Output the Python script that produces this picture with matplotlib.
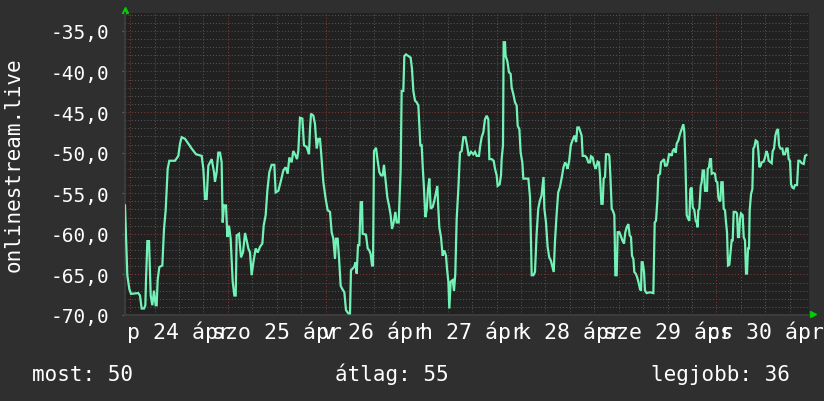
import matplotlib
matplotlib.use("Agg")
import matplotlib.pyplot as plt
import matplotlib.transforms as mtransforms

# time in hours from the left edge of the graph
hours = [0.0, 0.25, 0.57, 1.06, 1.47, 3.27, 3.68, 4.09, 4.67, 5.0, 5.16, 5.49, 5.9, 6.31, 6.71, 7.12,
         7.53, 7.78, 8.02, 8.43, 9.17, 9.58, 9.99, 10.48, 10.89, 12.28, 13.1, 13.51, 13.92, 14.74, 15.56,
         16.38, 17.44, 18.83, 19.24, 19.65, 20.06, 20.47, 21.29, 21.86, 22.1, 22.51, 22.92, 23.33, 23.74,
         23.99, 24.32, 24.81, 25.14, 25.54, 25.95, 26.45, 26.86, 27.19,
         27.43, 28.0, 28.49, 28.98, 29.48, 29.88, 30.29, 30.7, 31.11, 31.53, 32.1, 32.59, 33.16, 33.73,
         34.06, 34.55, 34.96, 35.45, 36.02, 36.68, 37.0, 37.66, 38.23, 38.89, 39.46, 39.95, 40.36, 40.93,
         41.34, 41.75, 42.25, 42.57, 42.98, 43.56, 43.96, 44.62, 45.19, 45.44, 45.69, 46.26, 46.67, 47.08,
         47.49, 47.89, 48.14, 48.71, 49.29, 49.78, 50.35, 50.76, 51.17, 51.58, 51.82, 52.23, 52.56, 52.97,
         53.38, 53.87, 54.28, 54.85, 55.26,
         55.5, 56.25, 56.66, 56.9, 57.23, 57.55, 57.88, 58.21, 58.37, 59.19, 59.6, 60.01, 60.34, 60.67,
         60.91, 61.16, 61.65, 62.06, 62.47, 62.88, 63.29, 63.61, 64.02, 64.43, 64.84, 65.25, 65.58, 65.99,
         66.4, 66.73, 67.22, 67.71, 67.95, 68.36, 68.61, 69.02, 69.59, 70.16, 70.49, 70.82, 71.23, 71.64,
         72.05, 72.29, 72.54, 72.87, 73.11, 73.44, 73.77, 74.09, 74.42, 74.75, 75.08, 75.57, 75.98, 76.39,
         76.71, 76.96, 77.2, 77.61, 78.02, 78.43, 78.84, 79.09, 79.42, 79.66, 79.99, 80.48, 80.81, 81.13,
         81.46, 81.87, 82.28, 82.69, 83.1, 83.6, 84.01, 84.42,
         84.98, 85.56, 85.97, 86.38, 86.95, 87.2, 87.6, 88.01, 88.42, 88.83, 89.24, 89.49, 90.06, 90.55,
         90.88, 91.29, 91.53, 92.02, 92.35, 92.51, 92.84, 93.0, 93.33, 93.49, 93.9, 94.31, 94.72, 94.97,
         95.38, 95.79, 96.2, 96.45, 96.86, 97.18, 97.59, 97.84, 98.25, 99.07, 99.48, 99.89, 100.3, 100.7,
         101.1, 101.5, 101.9, 102.3, 102.8, 103.0, 103.4, 103.8, 104.2, 104.6, 105.0, 105.3, 105.6, 106.0,
         106.4, 106.8, 107.3, 107.7, 108.1, 108.5, 108.7, 109.1, 109.5, 109.9, 110.4, 110.8, 111.1, 111.5,
         112.16, 112.41, 112.98, 113.39, 113.8, 114.21, 114.46, 114.87, 115.19, 115.6, 115.85, 116.09,
         116.42, 116.67, 117.0, 117.32, 117.57, 117.9, 118.14, 118.72, 118.96, 119.21, 119.54, 119.94,
         120.19, 120.44, 120.76, 121.01, 121.42, 121.74, 122.15, 122.56, 122.89, 123.22, 123.63, 123.96,
         124.28, 124.53, 124.86, 125.1, 125.43, 125.76, 126.09, 126.49, 126.74, 126.9, 127.15, 127.48,
         127.72, 128.13, 128.95, 129.77, 130.1, 130.42, 130.75, 131.0, 131.41, 131.65, 132.06, 132.39,
         132.64, 133.04, 133.29, 133.62, 134.03, 134.27, 134.52, 134.93, 135.26, 135.5, 135.91, 136.32,
         136.73, 137.14, 137.39, 137.63, 137.96, 138.37, 138.61, 138.86, 139.19, 139.43, 139.84, 140.17,
         140.41, 140.66, 140.82, 141.07, 141.4, 141.64, 141.89, 142.22, 142.46, 142.95, 143.12, 143.44,
         143.69, 143.93, 144.1, 144.5, 144.91, 145.16, 145.49, 145.73, 145.98, 146.22, 146.47, 146.8,
         147.04, 147.37, 147.62, 147.86, 148.11, 148.44, 148.68, 149.01, 149.26, 149.5, 149.99, 150.32,
         150.56, 150.81, 151.05, 151.3, 151.71, 151.96, 152.28, 152.53, 152.77, 153.02, 153.27, 153.43,
         153.76, 154.09, 154.33, 154.58, 154.91, 155.32, 155.56, 155.81, 156.14, 156.38, 156.87, 157.2,
         157.53, 157.86, 158.1, 158.59, 158.84, 159.08, 159.41, 159.74, 160.07, 160.39, 160.64, 160.97,
         161.46, 161.7, 162.11, 162.44, 162.77, 163.01, 163.34, 163.59, 163.92, 164.24, 164.57, 165.06,
         165.39, 165.72, 166.21, 166.7, 167.03, 167.35]

values = [-56.5, -60.2, -65.1, -66.8, -67.4, -67.3, -67.6, -69.2, -69.2, -68.8, -65.7, -60.9, -60.9, -67.6,
          -68.8, -67.0, -68.8, -68.8, -65.7, -64.1, -63.9, -59.4, -57.1, -52.0, -51.0, -51.0, -50.4, -48.9,
          -48.1, -48.3, -48.9, -49.5, -50.2, -50.4, -52.0, -55.7, -55.7, -51.6, -50.8, -52.4, -53.6, -52.4,
          -50.0, -50.0, -51.2, -58.6, -56.5, -56.5, -60.4, -59.0, -60.6, -65.9, -67.6, -67.6,
          -60.2, -60.0, -62.9, -62.3, -59.9, -60.8, -61.8, -62.3, -65.1, -63.5, -61.8, -62.3, -61.6, -61.2,
          -59.0, -57.7, -54.7, -52.4, -51.5, -51.5, -54.9, -54.7, -53.6, -52.2, -51.8, -52.6, -50.6, -51.2,
          -49.8, -50.2, -50.8, -49.8, -45.7, -45.8, -49.1, -49.3, -50.2, -47.1, -45.2, -45.45, -46.5, -49.5,
          -48.3, -48.3, -49.8, -53.6, -55.7, -57.1, -57.3, -59.8, -60.6, -63.1, -60.6, -60.6, -62.9, -66.4,
          -66.8, -67.2, -69.4, -69.8, -69.8,
          -64.5, -64.1, -63.5, -64.9, -61.4, -61.4, -56.1, -56.1, -60.0, -60.1, -61.8, -62.05, -62.5, -63.9,
          -63.9, -49.8, -49.4, -51.0, -52.4, -52.8, -52.8, -51.5, -53.5, -55.5, -56.5, -57.7, -59.4, -58.6,
          -57.3, -58.6, -58.6, -52.0, -42.4, -42.4, -38.1, -37.9, -38.1, -38.3, -39.7, -42.4, -43.6, -43.8,
          -44.2, -46.7, -49.1, -49.1, -51.6, -54.5, -57.95, -57.1, -54.5, -53.2, -56.9, -56.7, -55.9, -54.9,
          -54.1, -56.9, -59.2, -60.4, -62.7, -62.05, -62.7, -64.3, -65.9, -69.2, -65.9, -65.7, -67.0, -64.9,
          -58.2, -54.5, -50.0, -49.8, -48.1, -48.1, -49.1, -50.4,
          -49.9, -50.2, -49.9, -50.4, -50.4, -49.3, -48.1, -47.5, -45.9, -45.45, -45.9, -50.8, -50.8, -51.0,
          -52.0, -52.8, -54.1, -53.9, -52.8, -50.8, -49.1, -36.4, -36.4, -38.1, -38.7, -40.1, -40.3, -42.0,
          -42.8, -43.8, -44.2, -46.7, -47.1, -50.0, -51.2, -53.2, -53.2, -53.2, -55.5, -65.1, -65.1, -64.7,
          -60.0, -56.9, -55.9, -55.3, -53.0, -56.9, -58.6, -61.6, -62.9, -63.3, -64.1, -64.7, -61.0, -57.7,
          -54.9, -54.3, -53.0, -51.8, -51.2, -51.6, -52.0, -51.0, -49.1, -48.5, -47.9, -48.7, -46.9, -46.9,
          -47.9, -50.4, -50.4, -50.6, -51.2, -51.2, -50.45, -50.6, -51.4, -52.0, -51.6, -51.1,
          -51.2, -52.8, -56.3, -56.3, -53.2, -53.0, -50.2, -50.2, -50.4, -52.8, -56.9, -57.3,
          -57.7, -65.1, -65.1, -59.8, -59.8, -60.2, -60.8, -61.2, -59.8, -59.2, -58.8, -60.2,
          -60.4, -62.7, -63.1, -64.7, -64.9, -65.3, -65.9, -66.8, -67.0, -63.5, -63.5, -64.7,
          -67.0, -67.3, -67.2, -67.3, -58.6, -58.4, -55.9, -52.8, -52.6, -51.2, -51.0, -50.8,
          -51.6, -51.6, -51.2, -50.2, -50.2, -50.4, -49.8, -49.5, -50.0, -48.9, -48.5, -47.7,
          -47.1, -46.5, -47.5, -51.0, -57.7, -58.2, -58.4, -54.5, -54.3, -56.7, -57.1, -58.4,
          -58.6, -59.2, -57.1, -56.9, -54.1, -53.65, -52.2, -52.2, -54.7, -54.7, -52.0, -51.8,
          -50.8, -50.8, -52.6, -52.5, -52.6, -53.5, -53.65, -55.5, -55.9, -56.0, -53.65, -53.65,
          -56.9, -57.1, -58.6, -59.8, -63.9, -63.8, -62.5, -60.8, -60.8, -57.3, -57.3, -57.5,
          -60.4, -60.4, -58.2, -57.5, -57.7, -60.4, -60.8, -64.9, -64.9, -61.8, -61.8, -57.1,
          -55.1, -54.5, -49.5, -49.3, -48.5, -48.65, -49.8, -51.8, -51.6, -51.2, -51.1, -50.6,
          -49.8, -50.2, -51.0, -51.2, -51.3, -49.8, -49.5, -47.9, -47.3, -47.1, -49.1, -49.5,
          -49.5, -50.2, -50.2, -49.5, -49.5, -50.8, -51.0, -53.9, -54.3, -54.4, -54.0, -54.0,
          -51.0, -51.0, -51.3, -51.4, -50.4, -50.3]

day_labels = ["p 24 ápr", "szo 25 ápr", "v 26 ápr", "h 27 ápr", "k 28 ápr", "sze 29 ápr", "cs 30 ápr"]
first_midnight = 1.25   # hours after the left edge
y_ticks = [-70, -65, -60, -55, -50, -45, -40, -35]
y_tick_labels = ["-70,0", "-65,0", "-60,0", "-55,0", "-50,0", "-45,0", "-40,0", "-35,0"]
summary = [("most", 50), ("átlag", 55), ("legjobb", 36)]

MONO = "DejaVu Sans Mono"
CANVAS = "#2f2f2f"
BACK = "#212121"

fig = plt.figure(figsize=(8.24, 4.02), dpi=100, facecolor=CANVAS)
ax = fig.add_axes([125 / 824, 86 / 402, 684 / 824, 302 / 402])
ax.set_facecolor(BACK)
ax.set_xlim(0, 168)
ax.set_ylim(-70, -32.8)

# grid: minor grey dots, major red dots
for v in range(-69, -32):
    if v % 5:
        ax.axhline(v, color="#555555", lw=0.75, ls=(0, (1, 2)), zorder=1)
for k in range(-1, 8):
    for q in range(4):
        hx = first_midnight + 24 * k + 6 * q
        if 0 < hx < 168:
            c = "#803838" if q == 0 else "#555555"
            ax.axvline(hx, color=c, lw=0.75, ls=(0, (1, 2)), zorder=2 if q == 0 else 1)
for v in y_ticks:
    ax.axhline(v, color="#803838", lw=0.75, ls=(0, (1, 2)), zorder=2)

ax.plot(hours, values, color="#72f2b6", lw=1.6, zorder=5, solid_joinstyle="miter")

for s in ["top", "right"]:
    ax.spines[s].set_visible(False)
for s in ["left", "bottom"]:
    ax.spines[s].set_color("#3c3c3c")
    ax.spines[s].set_linewidth(1.5)

ax.set_yticks(y_ticks)
ax.set_yticklabels(y_tick_labels, fontfamily=MONO, fontsize=14, color="white")
ax.tick_params(axis="y", length=2.5, color="#666666", pad=9)
ax.set_xticks([])

# day labels centred on noon; like rrdtool they run into each other
trans = mtransforms.blended_transform_factory(ax.transData, ax.transAxes)
for i, lab in enumerate(day_labels):
    ax.text(first_midnight + 12 + 24 * i, -0.077, lab, transform=trans, ha="center", va="baseline",
            fontfamily=MONO, fontsize=15.5, color="white", clip_on=False)

# rrdtool style arrows
ax.plot(0, 1.01, marker="^", color="#00d000", ms=5, transform=ax.transAxes, clip_on=False)
ax.plot(1.006, 0.003, marker=">", color="#00d000", ms=5, transform=ax.transAxes, clip_on=False)

fig.text(14 / 824, 1 - 165 / 402, "onlinestream.live", rotation=90, ha="center", va="center",
         fontfamily=MONO, fontsize=15, color="white")

xs = [32, 335, 651]
for x, (name, val) in zip(xs, summary):
    fig.text(x / 824, 1 - 381.5 / 402, f"{name}: {val}", ha="left", va="baseline",
             fontfamily=MONO, fontsize=15, color="white")

fig.savefig("out.png", dpi=100, facecolor=CANVAS)
